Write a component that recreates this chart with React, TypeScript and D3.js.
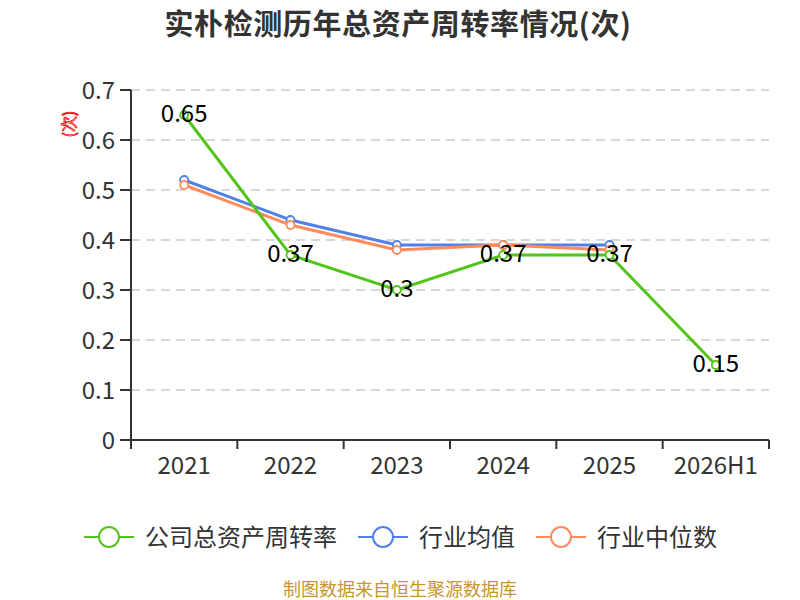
import * as d3 from "d3";
import React from "react";

const categories = ["2021", "2022", "2023", "2024", "2025", "2026H1"];
const companyValues = [0.65, 0.37, 0.3, 0.37, 0.37, 0.15];
const industryAvg = [0.52, 0.44, 0.39, 0.39, 0.39];
const industryMedian = [0.51, 0.43, 0.38, 0.39, 0.38];
const yTicks = [0, 0.1, 0.2, 0.3, 0.4, 0.5, 0.6, 0.7];
const legendNames = ["公司总资产周转率", "行业均值", "行业中位数"];

const FONT = "'Noto Sans CJK SC', 'Noto Sans', sans-serif";
const GREEN = "#52c41a";
const BLUE = "#5081e6";
const ORANGE = "#ff8a5b";

export default function App() {
    const fullwidth = 800;
    const fullheight = 600;
    const margin = { top: 90, right: 31, bottom: 160, left: 131 };
    const width = fullwidth - margin.left - margin.right;
    const height = fullheight - margin.top - margin.bottom;

    const xScale = d3.scaleBand().domain(categories).range([0, width]);
    const yScale = d3.scaleLinear().domain([0, 0.7]).range([height, 0]);
    const cx = (c: string) => (xScale(c) ?? 0) + xScale.bandwidth() / 2;

    const line = d3.line<number>()
        .x((_, i) => cx(categories[i]))
        .y(d => yScale(d));

    const series = [
        { name: legendNames[1], color: BLUE, values: industryAvg },
        { name: legendNames[2], color: ORANGE, values: industryMedian },
        { name: legendNames[0], color: GREEN, values: companyValues },
    ];

    // legend items in original order
    const legend = [
        { name: legendNames[0], color: GREEN, x: 84 },
        { name: legendNames[1], color: BLUE, x: 358 },
        { name: legendNames[2], color: ORANGE, x: 536 },
    ];

    return (
        <svg width={fullwidth} height={fullheight} style={{ position: "absolute", left: 0, top: 0, fontFamily: FONT }}>
            <rect width={fullwidth} height={fullheight} fill="#fff" />
            <text x={398} y={35} textAnchor="middle" fontSize={29} letterSpacing={0.6} fontWeight="bold" fill="#333">
                实朴检测历年总资产周转率情况(次)
            </text>
            <text transform="translate(75,124) rotate(-90)" textAnchor="middle" fontSize={16}
                fill="#fff" stroke="red" strokeWidth={0.8}>(次)</text>

            <g transform={`translate(${margin.left},${margin.top})`}>
                {yTicks.map(t => (
                    <g key={t} transform={`translate(0,${yScale(t)})`}>
                        {t > 0 && <line x1={0} x2={width} stroke="#ccc" strokeWidth={1.5} strokeDasharray="9,6" />}
                        <line x1={-11} x2={0} stroke="#333" strokeWidth={2} />
                        <text x={-16} dy="0.36em" textAnchor="end" fontSize={24} fill="#333">{t}</text>
                    </g>
                ))}
                <line x1={0} x2={0} y1={0} y2={height} stroke="#333" strokeWidth={2} />
                <line x1={0} x2={width} y1={height} y2={height} stroke="#333" strokeWidth={2} />
                {categories.map(c => (
                    <line key={"t" + c} x1={xScale(c)} x2={xScale(c)} y1={height} y2={height + 9} stroke="#333" strokeWidth={2} />
                ))}
                <line x1={width} x2={width} y1={height} y2={height + 9} stroke="#333" strokeWidth={2} />
                {categories.map(c => (
                    <text key={"l" + c} x={cx(c)} y={height + 34} textAnchor="middle" fontSize={24} fill="#333">{c}</text>
                ))}

                {series.map(s => (
                    <g key={s.name}>
                        <path d={line(s.values) ?? ""} fill="none" stroke={s.color} strokeWidth={3} />
                        {s.values.map((v, i) => (
                            <circle key={i} cx={cx(categories[i])} cy={yScale(v)} r={4} fill="#fff" stroke={s.color} strokeWidth={1.8} />
                        ))}
                    </g>
                ))}
                {companyValues.map((v, i) => (
                    <text key={"d" + i} x={cx(categories[i])} y={yScale(v) - 2} dy="0.36em" textAnchor="middle" fontSize={24} fill="#000">{v}</text>
                ))}
            </g>

            {legend.map(l => (
                <g key={l.name} transform={`translate(${l.x},537)`}>
                    <line x1={0} x2={50} stroke={l.color} strokeWidth={2} />
                    <circle cx={25} cy={0} r={10} fill="#fff" stroke={l.color} strokeWidth={2} />
                    <text x={61} dy="0.36em" fontSize={24} fill="#333">{l.name}</text>
                </g>
            ))}

            <text x={400} y={596} textAnchor="middle" fontSize={18} fill="#c8952f">制图数据来自恒生聚源数据库</text>
        </svg>
    );
}
